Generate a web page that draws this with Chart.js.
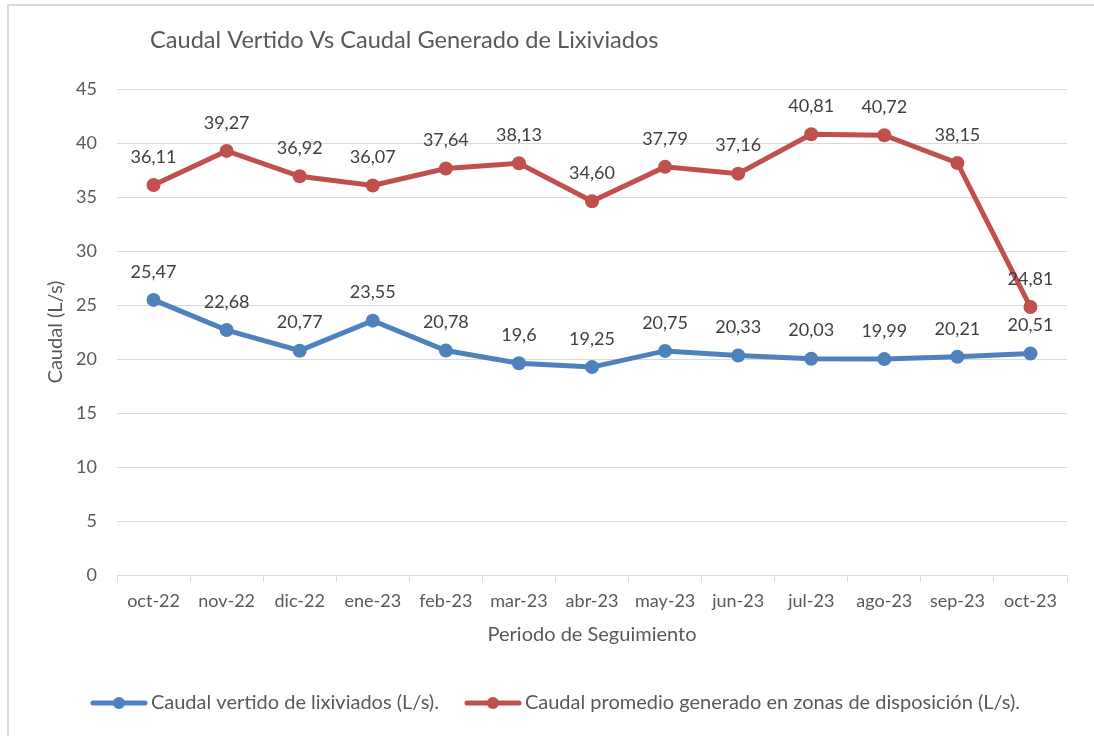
<!DOCTYPE html>
<html>
<head>
<meta charset="utf-8">
<script src="https://cdn.jsdelivr.net/npm/chart.js@4/dist/chart.umd.min.js"></script>
<style>
  html, body { margin: 0; padding: 0; background: #ffffff; }
  #wrap { position: relative; width: 1094px; height: 736px; overflow: hidden; }
  #frame { position: absolute; left: 7px; top: 4px; width: 1200px; height: 900px; border: 2px solid #d9d9d9; box-sizing: border-box; }
  #c { position: absolute; left: 0; top: 0; }
</style>
</head>
<body>
<div id="wrap">
  <div id="frame"></div>
  <canvas id="c" width="1094" height="736"></canvas>
</div>
<script>
const chartTitle = 'Caudal Vertido Vs Caudal Generado de Lixiviados';
const categories = ['oct-22','nov-22','dic-22','ene-23','feb-23','mar-23','abr-23','may-23','jun-23','jul-23','ago-23','sep-23','oct-23'];
const vertidoName = 'Caudal vertido de lixiviados (L/s).';
const vertido = [25.47, 22.68, 20.77, 23.55, 20.78, 19.6, 19.25, 20.75, 20.33, 20.03, 19.99, 20.21, 20.51];
const generadoName = 'Caudal promedio generado en zonas de disposición (L/s).';
const generado = [36.11, 39.27, 36.92, 36.07, 37.64, 38.13, 34.60, 37.79, 37.16, 40.81, 40.72, 38.15, 24.81];
const yTicks = [0, 5, 10, 15, 20, 25, 30, 35, 40, 45];
const yTitle = 'Caudal (L/s)';
const xTitle = 'Periodo de Seguimiento';

const BLUE = '#4f81bd';
const RED = '#c0504d';
const TEXT = '#595959';
const FONT = 'Lato, "Open Sans", sans-serif';

function fmtGeneral(v) { return String(v).replace('.', ','); }
function fmtFixed(v) { return v.toFixed(2).replace('.', ','); }

function makeMarker(color) {
  const c = document.createElement('canvas');
  c.width = 58; c.height = 14;
  const g = c.getContext('2d');
  g.strokeStyle = color; g.lineWidth = 5; g.lineCap = 'round';
  g.beginPath(); g.moveTo(3, 7); g.lineTo(55, 7); g.stroke();
  g.fillStyle = color;
  g.beginPath(); g.arc(29, 7, 6, 0, Math.PI * 2); g.fill();
  return c;
}
const markers = [makeMarker(BLUE), makeMarker(RED)];

const titlePlugin = {
  id: 'fixedTitle',
  afterDraw(chart) {
    const ctx = chart.ctx;
    ctx.save();
    ctx.font = '23.6px ' + FONT;
    ctx.fillStyle = TEXT;
    ctx.textAlign = 'left';
    ctx.textBaseline = 'middle';
    ctx.fillText(chartTitle, 150, 40);
    ctx.restore();
  }
};

const labelPlugin = {
  id: 'pointLabels',
  afterDatasetsDraw(chart) {
    const ctx = chart.ctx;
    ctx.save();
    ctx.font = '18px ' + FONT;
    ctx.fillStyle = '#404040';
    ctx.textAlign = 'center';
    ctx.textBaseline = 'middle';
    chart.data.datasets.forEach((ds, di) => {
      const meta = chart.getDatasetMeta(di);
      meta.data.forEach((pt, i) => {
        ctx.fillText(ds.labelFormat(ds.data[i]), pt.x, pt.y - 28);
      });
    });
    ctx.restore();
  }
};

const legendShift = {
  id: 'legendShift',
  afterLayout(chart) {
    if (chart.legend) { chart.legend.left += 20; chart.legend.right += 20; }
  }
};

new Chart(document.getElementById('c'), {
  type: 'line',
  data: {
    labels: categories,
    datasets: [
      {
        label: vertidoName, data: vertido, labelFormat: fmtGeneral,
        borderColor: BLUE, backgroundColor: BLUE, borderWidth: 5,
        pointRadius: 7, pointHoverRadius: 7, pointBorderWidth: 0, pointBackgroundColor: BLUE,
        tension: 0, fill: false
      },
      {
        label: generadoName, data: generado, labelFormat: fmtFixed,
        borderColor: RED, backgroundColor: RED, borderWidth: 5,
        pointRadius: 7, pointHoverRadius: 7, pointBorderWidth: 0, pointBackgroundColor: RED,
        tension: 0, fill: false
      }
    ]
  },
  options: {
    responsive: false,
    animation: false,
    devicePixelRatio: 1,
    layout: { padding: { top: 89, left: 10, right: 27, bottom: 13 } },
    plugins: {
      title: { display: false },
      tooltip: { enabled: false },
      legend: {
        position: 'bottom',
        labels: {
          usePointStyle: true,
          pointStyleWidth: 44,
          padding: 32,
          color: TEXT,
          font: { family: FONT, size: 20 },
          generateLabels(chart) {
            return Chart.defaults.plugins.legend.labels.generateLabels(chart).map((l, i) => Object.assign(l, { pointStyle: markers[i] }));
          }
        }
      }
    },
    scales: {
      x: {
        offset: true,
        grid: { display: true, drawOnChartArea: false, drawTicks: true, tickLength: 7, color: '#d9d9d9', offset: true },
        border: { display: true, color: '#d9d9d9', width: 1 },
        ticks: { color: TEXT, font: { family: FONT, size: 18 }, padding: 8, maxRotation: 0, autoSkip: false },
        title: { display: true, text: xTitle, color: TEXT, font: { family: FONT, size: 20 }, padding: { top: 0, bottom: 14 } },
        afterFit(scale) { scale.height = 86; }
      },
      y: {
        min: 0, max: 45,
        afterBuildTicks(scale) { scale.ticks = yTicks.map(v => ({ value: v })); },
        grid: { color: '#d9d9d9', lineWidth: 1, drawTicks: false },
        border: { display: false },
        ticks: { color: TEXT, font: { family: FONT, size: 18 }, padding: 20 },
        title: { display: true, text: yTitle, color: TEXT, font: { family: FONT, size: 20 }, padding: { top: 34, bottom: 0 } },
        afterFit(scale) { scale.width = 107; }
      }
    }
  },
  plugins: [titlePlugin, labelPlugin, legendShift]
});
</script>
</body>
</html>
